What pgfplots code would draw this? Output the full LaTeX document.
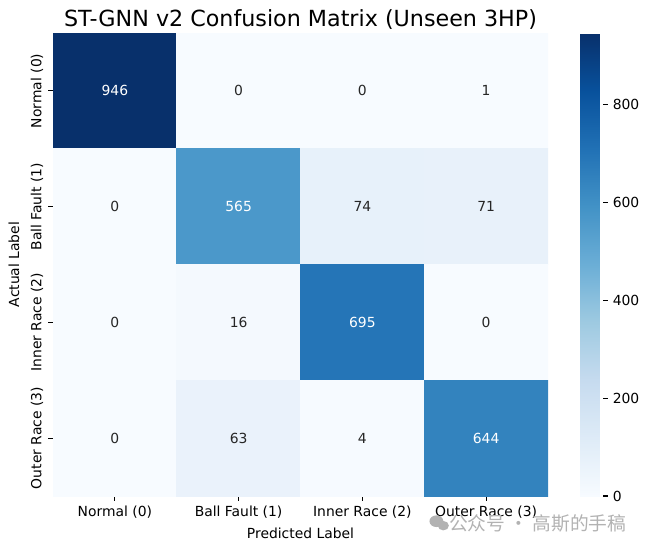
\documentclass[border=0pt]{standalone}
\usepackage{fontspec}
\setmainfont{DejaVu Sans}
\newfontfamily\cjk{Noto Sans CJK SC}
\usepackage{pgfplots}
\pgfplotsset{compat=1.18}

% Blues sequential colormap (9 colours, equally spaced)
\pgfplotsset{colormap={mplblues}{
  rgb255=(247,251,255) rgb255=(222,235,247) rgb255=(198,219,239)
  rgb255=(158,202,225) rgb255=(107,174,214) rgb255=(66,146,198)
  rgb255=(33,113,181) rgb255=(8,81,156) rgb255=(8,48,107)}}
\definecolor{annodark}{gray}{0.15}
\definecolor{wmgray}{RGB}{178,178,178}

\begin{document}
\begin{tikzpicture}
\path[use as bounding box] (0,0) rectangle (467.28pt,395.28pt);
\begin{axis}[
  at={(38.16pt,38.16pt)}, anchor=south west,
  scale only axis, width=356.4pt, height=333.36pt,
  xmin=-0.5, xmax=3.5, ymin=-0.5, ymax=3.5,
  y dir=reverse, enlargelimits=false,
  axis line style={draw=none},
  xtick={0,1,2,3}, ytick={0,1,2,3},
  xticklabels={Normal (0),Ball Fault (1),Inner Race (2),Outer Race (3)},
  yticklabels={Normal (0),Ball Fault (1),Inner Race (2),Outer Race (3)},
  xtick pos=bottom, ytick pos=left,
  tick align=outside, major tick length=3.5pt,
  tick style={black, line width=0.8pt},
  ticklabel style={font=\fontsize{10}{12}\selectfont},
  yticklabel style={rotate=90, anchor=south},
  xlabel={Predicted Label}, ylabel={Actual Label},
  label style={font=\fontsize{10}{12}\selectfont},
  ylabel style={yshift=1.5pt},
  title={ST-GNN v2 Confusion Matrix (Unseen 3HP)},
  title style={font=\fontsize{16}{19.2}\selectfont, at={(0.5,1)}, anchor=base, yshift=-1pt},
  colormap name=mplblues,
  point meta min=0, point meta max=946,
  colorbar,
  colorbar style={
    width=16.56pt,
    at={(parent axis.north east)}, anchor=north west, xshift=14.5pt,
    ytick={0,200,400,600,800},
    axis line style={draw=none},
    ytick pos=right, yticklabel pos=right,
    tick align=outside, major tick length=3.5pt,
    tick style={black, line width=0.8pt},
    /pgf/number format/assume math mode=true,
    yticklabel style={font=\fontsize{10}{12}\selectfont},
  },
]
% confusion matrix as a grid of cell corners; each corner carries the
% count of the cell it opens (x = predicted, y = actual)
\addplot[surf, shader=flat corner, mesh/cols=5, mesh/rows=5, point meta=explicit]
  table[meta=c] {
x y c
-0.5 -0.5 946
0.5 -0.5 0
1.5 -0.5 0
2.5 -0.5 1
3.5 -0.5 0
-0.5 0.5 0
0.5 0.5 565
1.5 0.5 74
2.5 0.5 71
3.5 0.5 0
-0.5 1.5 0
0.5 1.5 16
1.5 1.5 695
2.5 1.5 0
3.5 1.5 0
-0.5 2.5 0
0.5 2.5 63
1.5 2.5 4
2.5 2.5 644
3.5 2.5 0
-0.5 3.5 0
0.5 3.5 0
1.5 3.5 0
2.5 3.5 0
3.5 3.5 0
};
% counts on dark cells
\addplot[only marks, mark=none, nodes near coords, point meta=explicit symbolic,
  every node near coord/.append style={anchor=center, text=white, font=\fontsize{10}{12}\selectfont}]
  table[meta=c] {
x y c
0 0 946
1 1 565
2 2 695
3 3 644
};
% counts on light cells
\addplot[only marks, mark=none, nodes near coords, point meta=explicit symbolic,
  every node near coord/.append style={anchor=center, text=annodark, font=\fontsize{10}{12}\selectfont}]
  table[meta=c] {
x y c
1 0 0
2 0 0
3 0 1
0 1 0
2 1 74
3 1 71
0 2 0
1 2 16
3 2 0
0 3 0
1 3 63
2 3 4
};
\end{axis}
% watermark
\fill[wmgray] (314.2pt,20.0pt) ellipse (5.0pt and 4.2pt);
\fill[wmgray] (319.2pt,16.8pt) ellipse (4.0pt and 3.4pt);
\node[anchor=west, text=wmgray, inner sep=0pt, font=\cjk\fontsize{13.5}{16}\selectfont]
  at (323.2pt,18.7pt) {公众号 · 高斯的手稿};
\end{tikzpicture}
\end{document}
